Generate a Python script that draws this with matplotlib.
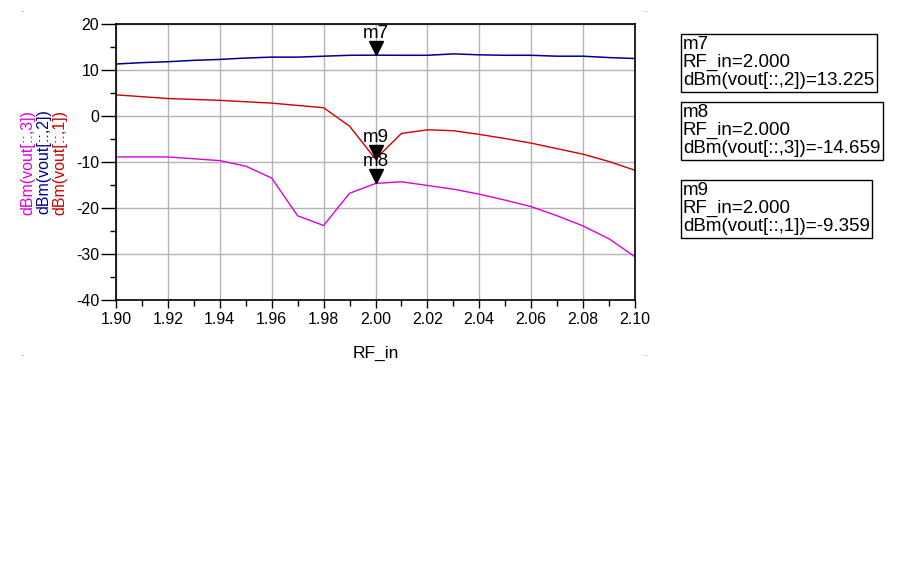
import matplotlib.pyplot as plt
from matplotlib import transforms
from matplotlib.ticker import MultipleLocator

plt.rcParams['font.family'] = ['Liberation Sans', 'DejaVu Sans']
plt.rcParams['axes.unicode_minus'] = False

rf_in = [1.90, 1.91, 1.92, 1.93, 1.94, 1.95, 1.96, 1.97, 1.98, 1.99, 2.00,
         2.01, 2.02, 2.03, 2.04, 2.05, 2.06, 2.07, 2.08, 2.09, 2.10]
vout2 = [11.3, 11.6, 11.8, 12.1, 12.3, 12.6, 12.8, 12.8, 13.0, 13.2, 13.225,
         13.2, 13.2, 13.5, 13.3, 13.2, 13.2, 13.0, 13.0, 12.7, 12.5]
vout1 = [4.6, 4.2, 3.8, 3.6, 3.4, 3.1, 2.8, 2.3, 1.8, -2.2, -9.359,
         -3.8, -3.0, -3.2, -4.0, -4.9, -5.9, -7.1, -8.3, -9.9, -11.8]
vout3 = [-8.9, -8.9, -8.9, -9.3, -9.7, -10.9, -13.5, -21.7, -23.8, -16.8, -14.659,
         -14.3, -15.1, -15.9, -17.0, -18.3, -19.7, -21.7, -23.9, -26.7, -30.6]

markers = ["m7", "m9", "m8"]
marker_x = [2.00, 2.00, 2.00]
marker_y = [13.225, -9.359, -14.659]

readouts = [
    "m7\nRF_in=2.000\ndBm(vout[::,2])=13.225",
    "m8\nRF_in=2.000\ndBm(vout[::,3])=-14.659",
    "m9\nRF_in=2.000\ndBm(vout[::,1])=-9.359",
]

fig = plt.figure(figsize=(9.04, 5.62), dpi=100)
ax = fig.add_axes([116 / 904, 1 - 300 / 562, 519 / 904, 276 / 562])

ax.plot(rf_in, vout2, color="#00008b", lw=1.1)
ax.plot(rf_in, vout1, color="#cc0000", lw=1.0)
ax.plot(rf_in, vout3, color="#dd00dd", lw=1.0)

ax.set_xlim(1.90, 2.10)
ax.set_ylim(-40, 20)
ax.xaxis.set_major_locator(MultipleLocator(0.02))
ax.xaxis.set_minor_locator(MultipleLocator(0.01))
ax.yaxis.set_major_locator(MultipleLocator(10))
ax.yaxis.set_minor_locator(MultipleLocator(5))
ax.xaxis.set_major_formatter(plt.FormatStrFormatter("%.2f"))
ax.grid(True, which="major", color="#b4b4b4", lw=1.0)
ax.set_axisbelow(True)
ax.tick_params(axis="x", which="major", direction="out", length=6, width=1, labelsize=11.5, pad=3)
ax.tick_params(axis="x", which="minor", direction="out", length=4, width=1)
ax.tick_params(axis="y", which="major", direction="out", length=11, width=1, labelsize=11.5, pad=1)
ax.tick_params(axis="y", which="minor", direction="out", length=4, width=1)
for s in ax.spines.values():
    s.set_linewidth(1.2)

ax.set_xlabel("RF_in", fontsize=12.5, labelpad=13)

# stacked y labels
fig.text(28 / 904, 1 - 162 / 562, "dBm(vout[::,3])", color="#dd00dd", rotation=90,
         ha="center", va="center", fontsize=11.5)
fig.text(44 / 904, 1 - 162 / 562, "dBm(vout[::,2])", color="#00008b", rotation=90,
         ha="center", va="center", fontsize=11.5)
fig.text(60 / 904, 1 - 162 / 562, "dBm(vout[::,1])", color="#cc0000", rotation=90,
         ha="center", va="center", fontsize=11.5)

# marker triangles with tip on the trace
tri = transforms.offset_copy(ax.transData, fig=fig, x=0, y=5, units="points")
lab = transforms.offset_copy(ax.transData, fig=fig, x=0, y=9.5, units="points")
for name, mx, my in zip(markers, marker_x, marker_y):
    ax.plot(mx, my, marker="v", ms=10, color="black", transform=tri, clip_on=False)
    ax.text(mx, my, name, transform=lab, ha="center", va="bottom", fontsize=13.5)

# readout boxes
box_tops = [36, 104, 182]
for txt, top in zip(readouts, box_tops):
    fig.text(683 / 904, 1 - top / 562, txt, ha="left", va="top", fontsize=13.5,
             linespacing=1.08,
             bbox=dict(boxstyle="square,pad=0.12", fc="white", ec="black", lw=1))

# frame corner dots
for cx, cy in [(22, 12), (645, 12), (22, 356), (645, 356)]:
    fig.text(cx / 904, 1 - cy / 562, ".", color="#555555", fontsize=6, ha="center")

fig.savefig("out.png", dpi=100)
